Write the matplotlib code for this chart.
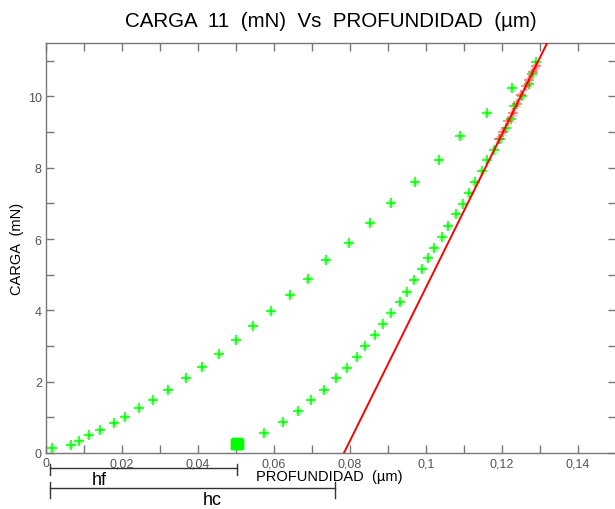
import numpy as np
import matplotlib
matplotlib.use('Agg')
import matplotlib.pyplot as plt
import matplotlib.transforms as mtransforms
from matplotlib.ticker import MultipleLocator, FuncFormatter

plt.rcParams['font.family'] = ['Liberation Sans', 'DejaVu Sans']

# ---- data ----
# first (left) branch
left_x = [0.0017, 0.0065, 0.0086, 0.0112, 0.0142, 0.0178, 0.0208, 0.0245, 0.0282,
          0.0322, 0.0368, 0.0411, 0.0455, 0.0501, 0.0546, 0.0592, 0.0642, 0.0690,
          0.0737, 0.0797, 0.0853, 0.0908, 0.0972, 0.1034, 0.1090, 0.1160, 0.1226]
left_y = [0.14, 0.23, 0.33, 0.50, 0.64, 0.83, 1.02, 1.25, 1.50,
          1.78, 2.09, 2.41, 2.77, 3.16, 3.55, 3.97, 4.43, 4.89,
          5.40, 5.90, 6.45, 7.02, 7.61, 8.23, 8.88, 9.55, 10.24]

# second (right) branch
right_x = [0.0574, 0.0624, 0.0663, 0.0698, 0.0732, 0.0764, 0.0791, 0.0818, 0.0840,
           0.0867, 0.0888, 0.0909, 0.0932, 0.0950, 0.0969, 0.0989, 0.1006, 0.1020,
           0.1043, 0.1059, 0.1079, 0.1098, 0.1113, 0.1130, 0.1147, 0.1161, 0.1179,
           0.1195, 0.1211, 0.1223, 0.1232, 0.1253, 0.1272, 0.1278, 0.1290]
right_y = [0.57, 0.86, 1.17, 1.48, 1.77, 2.09, 2.39, 2.70, 3.00,
           3.31, 3.61, 3.93, 4.23, 4.52, 4.85, 5.15, 5.46, 5.76,
           6.07, 6.37, 6.69, 6.98, 7.28, 7.60, 7.90, 8.21, 8.51,
           8.80, 9.11, 9.38, 9.73, 10.01, 10.36, 10.62, 10.96]

# overlapping points at the residual depth
blob_x = [0.0500, 0.0502, 0.0504, 0.0503, 0.0501, 0.0505]
blob_y = [0.24, 0.27, 0.25, 0.28, 0.26, 0.24]

# points used for the fit
fit_pts_x = [0.1193, 0.1203, 0.1217, 0.1228, 0.1240, 0.1251, 0.1263, 0.1270, 0.1282, 0.1289]
fit_pts_y = [8.8, 9.0, 9.3, 9.55, 9.8, 10.05, 10.3, 10.45, 10.7, 10.85]

# fitted line: y = fit_slope * (x - fit_x0)
fit_slope = 215.0
fit_x0 = 0.0784
fit_xend = 0.1330

# depths marked under the axis
hf = 0.0503
hc = 0.0761
h_start = 0.001

GREEN = '#00ff00'
LIGHT_GREEN = '#8cff8c'
RED = '#ff0000'

fig = plt.figure(figsize=(6.15, 5.1), dpi=100)
ax = fig.add_axes([46 / 615, 56 / 510, 570 / 615, 410 / 510])


def stars(xs, ys, col, col2, alpha=1.0):
    ax.plot(xs, ys, linestyle='none', marker='x', markersize=4.5, mew=1.0,
            color=col2, alpha=alpha, clip_on=False, zorder=3)
    ax.plot(xs, ys, linestyle='none', marker='+', markersize=7, mew=1.1,
            color=col, alpha=alpha, clip_on=False, zorder=4)


stars(left_x, left_y, GREEN, LIGHT_GREEN)
stars(right_x, right_y, GREEN, LIGHT_GREEN)
stars(blob_x, blob_y, GREEN, GREEN)
ax.plot(blob_x, blob_y, linestyle='none', marker='s', markersize=7, color=GREEN, zorder=4)

line_x = np.array([fit_x0, fit_xend])
ax.plot(line_x, fit_slope * (line_x - fit_x0), color=RED, lw=1.4, zorder=5)
stars(fit_pts_x, fit_pts_y, '#ff3030', '#ff9090', alpha=0.7)

ax.set_xlim(0, 0.15)
ax.set_ylim(0, 11.5)

ax.xaxis.set_major_locator(MultipleLocator(0.02))
ax.xaxis.set_minor_locator(MultipleLocator(0.01))
ax.yaxis.set_major_locator(MultipleLocator(2))
ax.yaxis.set_minor_locator(MultipleLocator(1))


def comma(v, pos):
    s = f"{v:.2f}".rstrip('0').rstrip('.')
    return s.replace('.', ',')


ax.xaxis.set_major_formatter(FuncFormatter(comma))
ax.tick_params(which='both', direction='in', top=True, right=True, length=6,
               width=1, color='#777777', labelcolor='#555555', labelsize=9, pad=3)
for sp in ax.spines.values():
    sp.set_color('#777777')
    sp.set_linewidth(1)

ax.set_title('CARGA  11  (mN)  Vs  PROFUNDIDAD  (\u00b5m)', fontsize=14.8, pad=12)
ax.set_xlabel('PROFUNDIDAD  (\u00b5m)', fontsize=10.5, va='center')
ax.xaxis.set_label_coords(0.497, -0.056)
ax.set_ylabel('CARGA  (mN)', fontsize=10.5, va='center', ha='center')
ax.yaxis.set_label_coords(-0.051, 0.5)

# hf / hc brackets below the axis
tr = mtransforms.blended_transform_factory(ax.transData, fig.transFigure)
bc = '#333333'
ax.plot([h_start, hf], [0.0804, 0.0804], color=bc, lw=1, transform=tr, clip_on=False)
ax.plot([h_start, h_start], [0.0882, 0.0667], color=bc, lw=1, transform=tr, clip_on=False)
ax.plot([hf, hf], [0.0882, 0.0667], color=bc, lw=1, transform=tr, clip_on=False)
ax.text(0.0139, 0.0569, 'hf', fontsize=13, ha='center', va='center', transform=tr)

ax.plot([h_start, hc], [0.0412, 0.0412], color=bc, lw=1, transform=tr, clip_on=False)
ax.plot([h_start, h_start], [0.0529, 0.0216], color=bc, lw=1, transform=tr, clip_on=False)
ax.plot([hc, hc], [0.0529, 0.0216], color=bc, lw=1, transform=tr, clip_on=False)
ax.text(0.0437, 0.0196, 'hc', fontsize=13, ha='center', va='center', transform=tr)

fig.savefig('out.png', dpi=100)
